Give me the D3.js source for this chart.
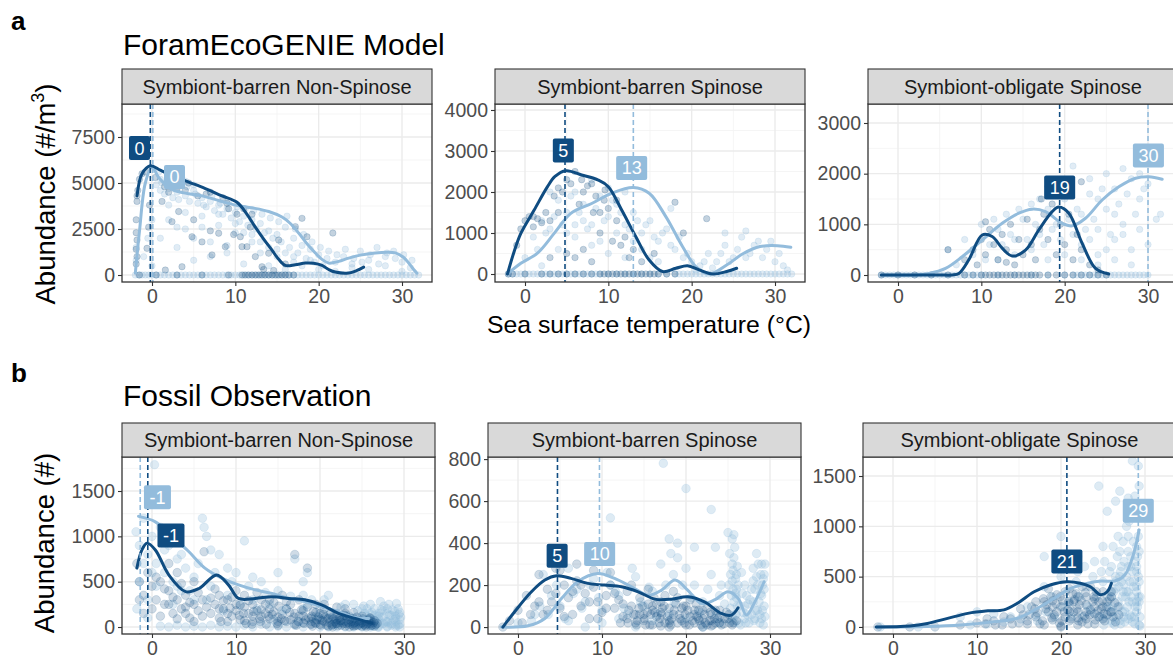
<!DOCTYPE html>
<html>
<head>
<meta charset="utf-8">
<script src="https://cdn.jsdelivr.net/npm/d3@7"></script>
<style>
  body { margin: 0; background: #fff; }
  svg { font-family: "Liberation Sans", Arial, Helvetica, sans-serif; }
</style>
</head>
<body>
<script>
// colours of the two sources
const dark = '#0f4c81';
const light = '#93bcdc';

const facets = ['Symbiont-barren Non-Spinose', 'Symbiont-barren Spinose', 'Symbiont-obligate Spinose'];
const xTicks = [0, 10, 20, 30];
const xMinor = [5, 15, 25];

// y ticks / limits, row a (model) and row b (fossil)
const yTicksA = [[0, 2500, 5000, 7500], [0, 1000, 2000, 3000, 4000], [0, 1000, 2000, 3000]];
const yLimA = [[-380, 9293], [-195, 4146], [-138, 3375]];
const yTicksB = [[0, 500, 1000, 1500], [0, 200, 400, 600, 800], [0, 500, 1000, 1500]];
const yLimB = [[-77, 1875], [-33, 810], [-70, 1689]];

// smooth curves [temp, abundance]
const curveA1dark = [[-1.8,4300],[-1.2,5500],[-0.2,5940],[1,5700],[2.4,5400],[4.4,5050],[6.4,4700],[8.4,4300],[10.2,3950],[11.4,3300],[12.4,2600],[13.4,1950],[14.4,1350],[15.2,850],[16,520],[17.2,560],[18.4,650],[19.4,640],[20.4,520],[21.2,300],[22,160],[23.6,110],[24.6,250],[25.4,430]];
const curveA1light = [[-2,100],[-1.5,2400],[-0.8,5000],[0,5870],[0.8,5300],[2.4,4650],[4,4450],[6,4300],[8,4050],[10,3800],[12,3650],[14,3450],[15.6,3150],[16.6,2800],[17.6,2280],[18.6,1700],[19.6,1200],[20.4,850],[21.2,650],[22.4,740],[23.6,920],[25,1080],[26.8,1200],[28.2,1240],[29.2,1200],[30.2,950],[30.8,650],[31.4,300],[31.8,100]];
const curveA2dark = [[-2.1,0],[-1.3,550],[-0.5,990],[1.1,1560],[2.7,2130],[3.6,2380],[4.9,2520],[6.8,2415],[8.8,2290],[10,2130],[11.6,1560],[13.3,910],[14.9,340],[16.5,60],[18.1,140],[19.5,200],[20.9,100],[22.5,0],[24.2,60],[25.4,140]];
const curveA2light = [[-2.1,0],[-0.5,260],[1.5,510],[3.5,990],[5.5,1480],[8,1720],[10.4,1970],[13,2110],[14.9,1970],[16.9,1400],[18.9,670],[20.5,180],[22.1,0],[24.2,220],[26.2,500],[28.2,670],[30.3,690],[31.9,650]];
const curveA3dark = [[-2,0],[2,0],[5,0],[6.5,0],[7.3,30],[8.5,300],[10.1,790],[11.3,760],[12.5,530],[13.7,375],[15.3,490],[16.9,890],[18.5,1250],[19.3,1340],[20.5,1220],[22.1,625],[23.7,130],[25.3,20]];
const curveA3light = [[-2,0],[2,0],[3.7,30],[5.7,130],[7.7,360],[10.1,690],[12.5,1020],[14.5,1220],[16.1,1300],[17.7,1250],[19.7,1020],[20.9,970],[22.5,1120],[24.5,1480],[26.5,1740],[28.5,1910],[30.1,1940],[31.7,1890]];
const curveB1dark = [[-1.8,650],[-1.2,850],[-0.6,925],[0.4,850],[2,575],[4,390],[5.6,425],[7.7,575],[9.1,465],[10.3,315],[12.3,315],[14.3,335],[16.3,315],[18.2,300],[20.2,245],[22.2,150],[24.2,95],[26.2,40]];
const curveB1light = [[-1.6,1220],[0.4,1160],[2.4,1000],[4.4,830],[6.3,650],[8.3,540],[10.3,465],[12.3,410],[14.3,370],[16.3,315],[18.2,280],[20.2,225],[22.2,170],[24.2,105],[25.8,95]];
const curveB2dark = [[-1.8,0],[-0.4,73],[1.6,168],[3.2,224],[4.6,244],[6.3,232],[8.3,208],[10.3,200],[12.3,192],[14.3,168],[16.3,133],[18.3,133],[20.2,144],[22.2,120],[24.2,65],[25.4,57],[26.2,92]];
const curveB2light = [[-2,0],[1.2,6],[3.2,41],[5.2,137],[7.1,216],[9.5,255],[11.5,232],[13.5,192],[15.5,152],[17.1,176],[18.7,224],[20.2,176],[21.8,113],[23.4,129],[25,168],[26.2,137],[27.2,57],[28.2,120],[29.3,216]];
const curveB3dark = [[-2,0],[2,10],[4.1,35],[6.5,85],[8.9,135],[11.3,160],[13.2,170],[14.8,235],[16.8,350],[18.8,420],[20.7,450],[22.3,435],[23.5,400],[24.7,320],[25.5,350],[26,435]];
const curveB3light = [[-2,0],[4,5],[8.1,20],[12.1,53],[14.8,86],[17.2,186],[19.2,285],[21.2,385],[23.2,435],[24.8,457],[26.4,457],[27.6,517],[28.6,715],[29.3,965]];

// peak temperature and label position [peakX, labelX, labelY, text]
const peaksA = [
  [[-0.2, -1.5, 6900, '0'], [0.1, 2.7, 5330, '0']],
  [[4.8, 4.6, 3010, '5'], [13.0, 12.8, 2585, '13']],
  [[19.4, 19.4, 1727, '19'], [30.0, 30.05, 2360, '30']]
];
const peaksB = [
  [[-0.5, 2.26, 1010, '-1'], [-1.4, 0.65, 1432, '-1']],
  [[4.7, 4.66, 340, '5'], [9.7, 9.72, 348, '10']],
  [[20.7, 20.7, 650, '21'], [29.2, 29.2, 1155, '29']]
];

// scatter points, flat [x, y, x, y, ...]
const ptsA1dark = [-1.8,4300,-1.8,4000,-1.9,3000,-1.8,1900,-1.9,1400,-1.8,1000,-1.7,4600,-1.5,5200,-1.2,5500,-0.8,5600,-0.4,2600,-0.6,1450,-0.3,3800,0.4,5300,1.2,4000,1.5,4800,2.4,2900,3.2,3450,2,4500,3,4700,4,4600,4.8,2080,5,3000,5.5,4300,6,1800,6.5,4400,7,2400,7.2,1090,8,2270,8.5,4200,8.8,1540,9.2,3600,9.8,2200,10.2,3300,10.6,2080,10.8,1540,11.4,1540,11.8,2600,12.4,1000,13.2,450,14,1180,15.2,1900,16,600,17.2,2630,18,3080,18.6,2080,21.7,2280,3.6,450,1.6,270,13.4,300,14.6,250,-1.9,600,-1.9,2300,11,3600,12,3300,9,3900,7,4500,4.4,5000];
const baseA1dark = [-1.5,0.5,3,6,9.2,10.8,11.2,11.6,12,12.4,12.8,13.2,13.6,14,14.4,14.8,15.2,15.6,16,16.4,17];
const ptsA1light = [0.5,4900,1,4600,1.5,4400,2,4700,2.5,4200,3,4500,3.5,4900,4,4300,4.5,4000,5,4600,5.5,3900,6,4200,6.5,3700,7,4000,7.5,3500,8,3800,8.5,3300,9,3600,9.5,3100,10,3400,10.5,2900,11,3200,11.5,2700,12,3000,12.5,2500,13,2800,13.5,2300,14,2400,14.5,2000,15,2200,15.5,1800,16,2600,16.5,1500,17,2000,17.5,1200,18,1600,18.5,900,19,1400,19.5,700,20,1100,20.5,500,21,900,22,700,23,1000,24,600,25,1300,26,800,27,1500,28,1000,29,1300,30,700,31,400,1,2000,2,3000,3,1500,4,2500,5,800,6,3200,7,1800,8,2700,9,1200,10,2300,11,600,12,1800,13,1200,14,500,15,1000,16,300,17,700,0,3000,-0.5,2000,-1,1000,0,500,-1.9,1500,-1.9,800,1,5200,2,5400,4,5100,5,4900,
  0.8,5600,1.2,5000,2.2,5100,3.2,4100,4.2,4800,5.2,4400,6.2,3800,7.2,4300,8.2,3900,9.2,4000,10.2,3700,11.2,3600,12.2,3500,13.2,3300,14.2,3100,15.2,2900,16.2,3200,17.2,2500,18.2,2200,19.2,1800,20.2,1500,21.2,1300,22.2,1100,23.2,1400,24.2,900,25.2,700,26.2,1100,27.2,600,28.2,1200,29.2,900,30.2,1100,31.2,800,20,300,22,200,24,400,26,300,28,500,30,200,18,500,16,1200,14,1500,12,2200,10,2800,8,3300,6,2600,4,3400,2,3800,3,2600,5,2000,7,1000,9,1600,11,2300,13,1800,15,1400,17,1000,19,800];
const baseA1light = [-2,-1.6,-1.2,-0.8,-0.4,0,0.5,1,1.5,2,2.5,3,3.5,4,4.5,5,5.5,6,6.5,7,7.5,8,8.5,9,9.5,10,10.5,11,11.5,12,12.5,13,13.5,14,14.5,15,15.5,16,16.5,17,17.5,18,18.5,19,19.5,20,20.5,21,21.5,22,22.5,23,23.5,24,24.5,25,25.5,26,26.5,27,27.5,28,28.5,29,29.5,30,30.5,31,31.5,32];
const ptsA2dark = [-1,700,-0.5,1100,0,1300,0.5,1400,1,1150,1.5,1350,2,1250,2.5,1500,3,1300,3.5,1900,4,2100,4.5,2000,5,2300,5.5,2200,6,2500,6.5,1700,7,2000,7.5,2150,8,2200,8.5,1900,9,1500,9.5,1800,10,1600,10.5,800,11,1300,11.5,700,12,900,12.5,400,13,600,6,400,5,500,7,600,8,300,4,1500,3,400,14,300,18,1750,21.8,1350,19,1000,15.5,500,9,1000,11,1800,1,1400,6.8,2300,8.2,1500,9.6,2050];
const baseA2dark = [-2,-1.5,0,2,3,4,5,6,7,8,9,9.5,10,10.5,11,11.5,12,12.5,13,13.5,14,14.5,15,15.5,16,17,18];
const ptsA2light = [0,400,1,900,2,1300,3,1100,4,1800,5,1500,6,2000,7,1700,8,1200,9,1900,10,1400,11,1700,12,1200,13,1500,14,1000,15,1300,16,800,17,1100,17.5,1600,18,600,19,400,20,300,21,200,22,500,23,300,24,700,25,400,26,900,27,500,28,800,29,600,30,300,31,200,4,600,6,900,8,700,10,500,12,400,14,600,16,300,2,200,5,1000,7,1300,9,800,11,1000,13,800,15,400,3,2000,8,2300,10,2100,12,2000,6,1200,26.5,1050,24,1000,
  1.5,600,2.5,1000,3.5,1400,4.5,1200,5.5,1900,6.5,1500,7.5,1100,8.5,1600,9.5,1300,10.5,1800,11.5,1500,12.5,1100,13.5,1300,14.5,1200,15.5,900,16.5,1000,17.5,700,18.5,900,19.5,500,20.5,100,21.5,300,22.5,150,23.5,500,24.5,300,25.5,600,26.5,400,27.5,700,28.5,400,29.5,800,30.5,500,31.5,100];
const baseA2light = [-2,-1.5,-1,-0.5,0,0.5,1,1.5,2,2.5,3,3.5,4,4.5,5,5.5,6,6.5,7,7.5,8,8.5,9,10,11,12,13,14,15,16,17,18,18.5,19,19.5,20,20.5,21,21.5,22,22.5,23,23.5,24,24.5,25,25.5,26,26.5,27,27.5,28,28.5,29,29.5,30,30.5,31,31.5,32];
const ptsA3dark = [8,300,9,500,9.5,200,10,700,10.5,400,11,900,11.5,600,12,300,12.5,800,13,500,13.5,1000,14,200,14.5,700,15,400,15.5,1100,16,600,16.5,300,17,900,17.5,1200,18,700,18.5,1400,19,400,19.5,1000,20,600,20.5,1200,21,300,21.5,800,22,500,23,200,24,100,22,1840,18,1750,6,500,10.5,1050,13,250,17.2,1500,19.8,1600];
const baseA3dark = [-2,0,2,4,6,8,9,10,10.5,11,11.5,12,12.5,13,13.5,14,14.5,15,15.5,16,16.5,17,18,19,20,21,22,23,24,25];
const ptsA3light = [6,500,7,200,8,700,9,400,10,1000,11,600,12,900,13,1200,14,700,15,1100,16,1400,17,800,18,1300,19,1000,20,1500,21,800,22,1200,23,1600,24,900,25,1300,26,1700,27,1000,28,1900,29,1500,30,1800,31,1100,12,300,14,400,16,500,18,300,20,400,22,600,24,400,26,700,28,500,30,600,25,2000,27,2100,29,2000,21,2150,24,1500,26,1200,23,1900,19,1700,17,1500,31.5,1200,
  10.5,300,11.5,1100,12.5,600,13.5,800,14.5,1300,15.5,700,16.5,1000,17.5,600,18.5,900,19.5,700,20.5,1100,21.5,1300,22.5,900,23.5,1100,24.5,1700,25.5,800,26.5,1400,27.5,1600,28.5,1200,29.5,1700,23,700,25,500,27,800,29,900,22,300,24,200,26,300,28,200];
const baseA3light = [-2,-1.5,-1,-0.5,0,0.5,1,1.5,2,2.5,3,3.5,4,4.5,5,5.5,6,6.5,7,7.5,8,8.5,9,9.5,10,12,14,16,18,20,21,21.5,22,22.5,23,23.5,24,24.5,25,25.5,26,26.5,27,27.5,28,28.5,29,29.5,30];
const ptsB1dark = [-1.8,700,-1.5,500,-1,350,-0.5,600,0,450,0.5,300,1,500,1.5,250,2,400,2.5,150,3,300,3.5,200,4,350,4.5,100,5,250,5.5,180,6,300,6.2,830,7,150,7.5,250,8,100,8.5,200,9,300,9.5,120,10,180,10.5,80,11,220,11.5,150,12,60,12.5,180,13,120,13.5,250,14,90,14.5,170,15,60,15.5,140,16,200,16.5,80,17,800,17.5,120,18,50,18.5,650,19,100,19.5,40,20,150,20.5,60,21,100,21.5,30,22,80,22.5,20,23,60,23.5,30,24,90,24.5,15,25,50,25.5,25,26,40,26.5,10,21,10,22,40,23,10,24,40,25,10,20,30,19,60,18,120,17,30,16,60,15,20,14,200,13,300,12,250,11,350,10,400,9,150,8,350,3,600,2,700,5,500,4,150,19.5,250,20.5,200,22,120,23,150,24,10,25.5,60,26,15,22.5,70,23.5,80,21.5,110,
  8.2,60,9.3,210,10.4,130,11.2,40,12.1,170,12.8,90,13.6,30,14.3,140,15.1,230,15.8,70,16.4,160,17.2,20,17.8,190,18.3,80,18.9,30,19.2,170,19.8,110,20.3,70,20.8,20,21.2,140,21.8,60,22.3,100,22.8,40,23.2,110,23.8,60,24.2,20,24.8,70,25.2,30,25.8,80,26.2,20,26.8,40,21.5,0,22.5,50,23.5,0,24.5,60,25.5,0,20,80,19,120,18,180,17,150,16,280,15,110,14,300,13,190,12,120,11,70,10,250,9,60,8,200,7,320,6,120,5,60,4,220,3,90,2,250,1,120,0,200,-1,150,-1.5,300,0.5,550,1.5,420,2.5,330,3.5,480,4.5,270,5.5,380,6.5,220,7.5,420,8.5,290,9.5,330,10.5,240,11.5,290,12.5,380,13.5,150,14.5,270,15.5,350,16.5,250,17.5,300,18.5,220,19.5,160,20.5,250,23,200,24,160,22,220,25,120,26,100,26.5,70,
  18.1,40,18.6,100,19.1,10,19.6,80,20.1,20,20.6,110,21.1,50,21.6,90,22.1,15,22.6,120,23.1,40,23.6,100,24.1,50,24.6,30,25.1,90,25.6,40,26.1,60,26.6,25,19.4,50,20.4,140,21.4,20,22.4,70,23.4,50,24.4,110,25.4,15,26.4,50,20.9,90,21.9,40,22.9,130,23.9,20,24.9,40,25.9,100,17.4,60,16.9,110,15.4,90,14.9,40,13.9,120,12.9,60,11.9,30,10.9,150];
const ptsB1light = [-1.9,1050,-1.5,900,-1,1200,-0.5,800,0,1000,0.3,1790,0.5,700,1,1100,1.5,600,2,900,2.5,500,3,750,3.5,400,4,650,5,550,6,1200,6.2,1100,6.5,1000,7,450,8,800,9,350,10,600,11,950,12,300,13,500,14,250,15,400,16,200,17,750,18,500,18.5,600,19,300,20,200,21,350,22,150,23,250,24,100,25,200,26,80,27,150,28,60,29,100,29.5,30,26,250,27,50,28,200,29,20,28.5,130,27.5,110,2,0,4,0,6,0,8,0,10,0,12,0,14,0,16,0,18,0,20,0,22,0,24,0,26,0,27,20,28,10,29,60,29.5,80,28.5,40,27.5,180,26.5,130,
  25,50,25.5,120,26,30,26.5,200,27,90,27.5,40,28,150,28.5,20,29,120,29.5,160,28.2,250,27.2,280,29.3,200,26.2,160,25.2,230,24.5,180,23.5,120,22.5,220,21.5,90,20.5,300,19.5,120,18.5,250,17.5,60,16.5,340,15.5,180,14.5,80,13.5,380,12.5,200,11.5,450,10.5,250,9.5,500,8.5,180,7.5,600,6.5,300,5.5,700,4.5,400,3.5,800,2.5,250,1.5,850,0.5,450,-0.5,300,-1.5,500,-1.8,200,-1,700,0,600,3,450,5,300,7,850,9,650,12,550,15,600,18,350,21,150,24,250,27,0,28,0,29,0,29.5,0,25,0,23,0,21,0,19,30,17,20,15,10,13,30,11,20,9,10,7,20,5,10,3,20,1,10,-0.5,100,
  24.3,60,24.8,20,25.3,150,25.8,70,26.3,10,26.8,110,27.3,190,27.8,60,28.3,130,28.8,80,29.3,20,29.6,110,27.6,230,28.6,190,29.1,260,26.6,60,25.6,200,24.9,100,23.9,40,22.9,70,28,50,27,120,29.4,140,25.9,150,26.9,0,28.9,170,23,130,22,30,20,100,18,200];
const ptsB2dark = [-1.8,0,-1,30,0,80,1,150,2,100,2.5,250,3,60,3.5,180,4,120,4.5,280,5,90,5.5,200,6,140,6.5,60,7,220,7.5,100,8,160,8.5,40,9,190,9.5,120,10,70,10.5,150,11,200,11.5,90,12,130,12.5,50,13,170,13.5,100,14,60,14.5,140,15,30,15.5,110,16,80,16.5,50,17,120,17.5,20,18,90,18.5,60,19,140,19.5,30,20,100,20.5,50,21,20,21.5,80,22,40,22.5,10,23,60,23.5,20,24,50,24.5,15,25,40,25.5,10,26,30,22,0,23,5,16,10,17,5,18,0,20,10,21,60,24,80,19,20,15,60,16,100,17,70,18,30,14,20,13,40,
  12.2,20,13.2,80,14.2,30,14.8,100,15.2,10,15.8,60,16.2,140,16.8,20,17.2,90,17.8,50,18.2,10,18.8,110,19.2,60,19.8,20,20.2,80,20.8,30,21.2,110,21.8,10,22.2,60,22.8,30,23.2,10,23.8,40,24.2,10,24.8,70,25.2,20,22.5,90,23.5,80,21.5,40,20.5,130,19.5,90,18.5,170,17.5,150,16.5,110,15.5,180,14.5,60,13.5,200,12.5,110,11.5,160,10.5,90,9.5,40,8.5,120,7.5,200,6.5,170,5.5,50,4.5,160,3.5,80,2.5,120,1.5,60,0.5,20,9,270,11,260,7,300,5,270,
  13.1,20,13.8,60,14.4,90,15,40,15.7,10,16.3,70,16.9,40,17.4,100,18,20,18.6,80,19.3,40,19.9,60,20.4,10,21,80,21.6,30,22.3,20,22.9,70,23.4,40,24,20,24.6,40,25.1,60,25.6,20,22,80,23,30,21.3,50,18.3,40,17.1,60,15.4,70,14.1,10,19.7,100];
const ptsB2light = [0,20,2,60,3,250,4,150,5,100,6,280,7,180,8,120,9,230,10,80,11,520,11,200,12,150,13,60,14,240,15,100,16,170,17,300,17.3,780,18,420,18.5,250,19,330,20,660,20,280,21,200,22,120,23,560,23,250,24,150,25,450,25.5,420,25.8,380,25.5,300,26,250,26,180,25.7,120,26,60,27,100,28,280,28.5,200,29,150,29.3,250,28.5,80,29,40,27.5,20,24,20,22,0,20,40,18,60,16,30,14,0,12,40,10,20,8,0,6,30,25.5,220,26,140,25.8,20,28,120,28.8,60,29.2,10,27,40,26.5,10,
  25.2,350,25.6,270,25.9,160,25.3,90,25.7,440,26.2,200,26.4,100,26.8,70,27.2,150,27.8,60,28.2,180,28.4,350,28.7,120,28.9,250,29.1,80,29.3,180,29.4,50,29,300,28.1,30,27.4,110,26.6,260,25.4,30,24.6,110,24.2,200,23.6,60,22.6,180,21.6,70,20.6,140,19.6,200,18.6,120,17.6,200,16.6,60,15.6,190,14.6,120,13.6,280,12.6,90,11.6,170,10.6,260,9.6,140,8.6,200,7.6,90,6.6,160,5.6,40,4.6,200,3.6,60,2.6,100,1.6,30,19,400,18.2,350,21,380,23.5,380,
  25.1,200,25.4,150,25.7,330,25.9,60,26.1,290,25.3,250,25.6,180,26.3,20,27,200,27.6,130,28,220,28.3,80,28.6,300,28.8,20,29.1,200,29.3,100,29.4,300,28.9,160,28.4,240,27.8,180,27.3,60,26.7,160,26.1,100,25.9,230,25.5,50,28.2,40,29.2,230,27.1,20];
const ptsB3dark = [-1.8,0,2,0,5,0,8,20,10,40,11,30,12,60,13,20,14,80,15,40,15.5,120,16,60,16.5,200,17,100,17.5,30,18,250,18.5,150,19,70,19.5,320,20,200,20.5,100,21,380,21.5,250,22,150,22.5,50,23,300,23.5,400,24,200,24.5,100,25,350,25.5,250,26,150,26.5,50,24,30,22,20,20,10,18,20,23,150,21,60,19,200,17,250,26,300,25,200,22,300,24,280,23,80,21,150,
  17.2,140,17.8,60,18.2,180,18.8,300,19.2,120,19.8,40,20.2,260,20.8,170,21.2,80,21.8,330,22.2,220,22.8,110,23.2,30,23.8,250,24.2,350,24.8,180,25.2,60,25.8,280,26.2,100,26.8,200,22.5,400,20.5,350,18.5,380,16.2,120,15.2,180,14.2,30,13.2,100,12.2,20,11.2,80,23.5,170,24.5,250,25.5,120,21.5,150,19.5,150,19,260,21,230,23,220,25,80,26,350,16,30,20,0,22,90,24,130,
  18.3,220,18.9,90,19.4,230,19.9,300,20.4,150,20.9,250,21.4,330,21.9,180,22.4,260,22.9,340,23.4,120,23.9,300,24.4,160,24.9,260,25.4,200,25.9,150,26.4,240,26.9,120,17.9,280,16.9,180,20.1,60,22.1,60,24.1,70,25.1,130,21.6,270];
const ptsB3light = [-1.5,0,3,0,8,100,10,150,12,130,14,100,16,200,17,120,18,400,19,300,20,500,21,250,22,550,23,400,24,650,25,800,25,450,26,600,26,300,27,750,27,500,27,200,28,900,28,600,28,350,28.5,1100,29,800,29,400,29,150,28.5,1650,26.5,1250,27,1350,24.5,1400,28,1280,29.3,1400,25.5,1150,22,700,20,900,18,700,27.5,100,28.5,50,29.3,20,26,60,27.5,420,28.5,250,29,600,26.5,380,27,60,28,80,29.3,250,
  25.2,100,25.5,300,25.8,550,26.2,150,26.5,450,26.8,250,27.2,600,27.4,350,27.6,150,27.8,500,28.1,250,28.3,700,28.6,450,28.8,200,29,550,29.2,300,29.4,100,29.1,700,28.4,100,27.1,30,26.1,40,25.1,20,24.2,300,23.2,200,22.2,300,21.2,100,20.2,200,19.2,100,18.2,150,17.2,60,15.2,80,13.2,50,11.2,30,9.2,20,24.8,550,23.8,500,22.8,600,21.8,450,26.8,900,27.8,1000,28.8,1300,29.2,1600,26.2,800,25.2,650,27.3,300,28.2,120,29.3,450,
  26.1,200,26.3,350,26.6,100,26.9,400,27.1,550,27.3,150,27.5,650,27.7,300,27.9,200,28,750,28.2,450,28.4,300,28.5,550,28.7,100,28.9,650,29,350,29.1,200,29.2,500,29.3,750,29.4,300,28.6,850,27.4,850,28.1,1050,29.2,900,26.7,700,27.6,50,28.8,30,29.4,10,26.4,20,28.3,600,27.2,450,29,250,28.6,400,27.8,350,26.5,500,25.9,350,25.6,200,24.6,100,23.6,150,22.6,100];

// layout of the six panels
const rowA = { strip: 69, top: 104, bottom: 282, xLeft: [122, 495, 868], width: 310, xDom: [-3.6, 33.6] };
const rowB = { strip: 423, top: 457, bottom: 634, xLeft: [122, 488, 863], width: 313, xDom: [-3.57, 33.69] };

const svg = d3.select('body').append('svg')
  .attr('width', 1173).attr('height', 662);

const toPairs = (flat) => d3.range(0, flat.length, 2).map(i => [flat[i], flat[i + 1]]);

function drawPanel(row, col, yTicks, yLim, dPts, lPts, dCurve, lCurve, peaks, r, opD, opL) {
  const x0 = row.xLeft[col];
  const x = d3.scaleLinear().domain(row.xDom).range([x0, x0 + row.width]);
  const y = d3.scaleLinear().domain(yLim).range([row.bottom, row.top]);
  const g = svg.append('g');

  // minor + major grid
  const step = yTicks[1] - yTicks[0];
  const yMinor = yTicks.map(t => t + step / 2).filter(v => v < yLim[1]);
  g.selectAll('.gxm').data(xMinor).enter().append('line')
    .attr('x1', d => x(d)).attr('x2', d => x(d)).attr('y1', row.top).attr('y2', row.bottom)
    .attr('stroke', '#f2f2f2').attr('stroke-width', 0.8);
  g.selectAll('.gym').data(yMinor).enter().append('line')
    .attr('y1', d => y(d)).attr('y2', d => y(d)).attr('x1', x0).attr('x2', x0 + row.width)
    .attr('stroke', '#f2f2f2').attr('stroke-width', 0.8);
  g.selectAll('.gx').data(xTicks).enter().append('line')
    .attr('x1', d => x(d)).attr('x2', d => x(d)).attr('y1', row.top).attr('y2', row.bottom)
    .attr('stroke', '#ebebeb').attr('stroke-width', 1.4);
  g.selectAll('.gy').data(yTicks).enter().append('line')
    .attr('y1', d => y(d)).attr('y2', d => y(d)).attr('x1', x0).attr('x2', x0 + row.width)
    .attr('stroke', '#ebebeb').attr('stroke-width', 1.4);

  // points
  const clip = 'clip' + row.top + col;
  svg.append('clipPath').attr('id', clip).append('rect')
    .attr('x', x0).attr('y', row.top).attr('width', row.width).attr('height', row.bottom - row.top);
  const pg = g.append('g').attr('clip-path', `url(#${clip})`);
  [[lPts, light, opL], [dPts, dark, opD]].forEach(([pts, c, op]) => {
    pg.append('g').selectAll('circle').data(pts).enter().append('circle')
      .attr('cx', d => x(d[0])).attr('cy', d => y(d[1])).attr('r', r)
      .attr('fill', c).attr('fill-opacity', op)
      .attr('stroke', c).attr('stroke-opacity', op * 1.2).attr('stroke-width', 0.6);
  });

  // dashed peak lines
  [[peaks[1], light], [peaks[0], dark]].forEach(([p, c]) => {
    g.append('line').attr('x1', x(p[0])).attr('x2', x(p[0]))
      .attr('y1', row.top).attr('y2', row.bottom)
      .attr('stroke', c).attr('stroke-width', 1.6).attr('stroke-dasharray', '5,3');
  });

  // smooth curves
  const line = d3.line().x(d => x(d[0])).y(d => y(d[1])).curve(d3.curveCatmullRom.alpha(0.5));
  [[lCurve, light], [dCurve, dark]].forEach(([cv, c]) => {
    pg.append('path').datum(cv).attr('d', line)
      .attr('fill', 'none').attr('stroke', c).attr('stroke-width', 3)
      .attr('stroke-linecap', 'round').attr('stroke-linejoin', 'round');
  });

  // peak labels
  [[peaks[0], dark], [peaks[1], light]].forEach(([p, c]) => {
    const lg = g.append('g').attr('transform', `translate(${x(p[1])},${y(p[2])})`);
    const t = lg.append('text').attr('text-anchor', 'middle').attr('dy', '0.36em')
      .attr('fill', '#fff').attr('font-size', 18).text(p[3]);
    const w = t.node().getComputedTextLength() + 11;
    lg.insert('rect', 'text').attr('x', -w / 2).attr('y', -12).attr('width', w).attr('height', 24)
      .attr('rx', 2).attr('fill', c);
  });

  // panel border
  g.append('rect').attr('x', x0).attr('y', row.top).attr('width', row.width).attr('height', row.bottom - row.top)
    .attr('fill', 'none').attr('stroke', '#333').attr('stroke-width', 1.3);

  // strip
  g.append('rect').attr('x', x0).attr('y', row.strip).attr('width', row.width).attr('height', row.top - row.strip)
    .attr('fill', '#d9d9d9').attr('stroke', '#333').attr('stroke-width', 1.1);
  g.append('text').attr('x', x0 + row.width / 2).attr('y', (row.strip + row.top) / 2).attr('dy', '0.35em')
    .attr('text-anchor', 'middle').attr('font-size', 20).attr('fill', '#1a1a1a').text(facets[col]);

  // axes
  const ax = g.append('g').attr('transform', `translate(0,${row.bottom})`)
    .call(d3.axisBottom(x).tickValues(xTicks).tickFormat(d3.format('d')).tickSize(4).tickPadding(3));
  const ay = g.append('g').attr('transform', `translate(${x0},0)`)
    .call(d3.axisLeft(y).tickValues(yTicks).tickFormat(d3.format('d')).tickSize(4).tickPadding(3));
  [ax, ay].forEach(a => {
    a.select('.domain').remove();
    a.selectAll('line').attr('stroke', '#333').attr('stroke-width', 1.1);
    a.selectAll('text').attr('fill', '#4d4d4d').attr('font-size', 19.5)
      .attr('font-family', '"Liberation Sans", Arial, sans-serif');
  });
}

const base = (xs) => xs.map(v => [v, 0]);

drawPanel(rowA, 0, yTicksA[0], yLimA[0], toPairs(ptsA1dark).concat(base(baseA1dark)), toPairs(ptsA1light).concat(base(baseA1light)), curveA1dark, curveA1light, peaksA[0], 3.2, 0.25, 0.28);
drawPanel(rowA, 1, yTicksA[1], yLimA[1], toPairs(ptsA2dark).concat(base(baseA2dark)), toPairs(ptsA2light).concat(base(baseA2light)), curveA2dark, curveA2light, peaksA[1], 3.2, 0.25, 0.28);
drawPanel(rowA, 2, yTicksA[2], yLimA[2], toPairs(ptsA3dark).concat(base(baseA3dark)), toPairs(ptsA3light).concat(base(baseA3light)), curveA3dark, curveA3light, peaksA[2], 3.2, 0.25, 0.28);
drawPanel(rowB, 0, yTicksB[0], yLimB[0], toPairs(ptsB1dark), toPairs(ptsB1light), curveB1dark, curveB1light, peaksB[0], 4.3, 0.2, 0.3);
drawPanel(rowB, 1, yTicksB[1], yLimB[1], toPairs(ptsB2dark), toPairs(ptsB2light), curveB2dark, curveB2light, peaksB[1], 4.3, 0.2, 0.3);
drawPanel(rowB, 2, yTicksB[2], yLimB[2], toPairs(ptsB3dark), toPairs(ptsB3light), curveB3dark, curveB3light, peaksB[2], 4.3, 0.2, 0.3);

// titles and tags
svg.append('text').attr('x', 11).attr('y', 30).attr('font-size', 26).attr('font-weight', 'bold').text('a');
svg.append('text').attr('x', 11).attr('y', 382).attr('font-size', 26).attr('font-weight', 'bold').text('b');
svg.append('text').attr('x', 123).attr('y', 55).attr('font-size', 30).attr('fill', '#000').text('ForamEcoGENIE Model');
svg.append('text').attr('x', 123).attr('y', 406).attr('font-size', 30).attr('fill', '#000').text('Fossil Observation');

svg.append('text').attr('x', 649).attr('y', 333).attr('text-anchor', 'middle').attr('font-size', 24.8)
  .text('Sea surface temperature (°C)');

const yt1 = svg.append('text').attr('transform', 'translate(55,194) rotate(-90)')
  .attr('text-anchor', 'middle').attr('font-size', 27.5);
yt1.append('tspan').text('Abundance (#/m');
yt1.append('tspan').attr('font-size', 18).attr('dy', -11).text('3');
yt1.append('tspan').attr('dy', 11).text(')');
svg.append('text').attr('transform', 'translate(54,543) rotate(-90)')
  .attr('text-anchor', 'middle').attr('font-size', 27.5).text('Abundance (#)');
</script>
</body>
</html>
